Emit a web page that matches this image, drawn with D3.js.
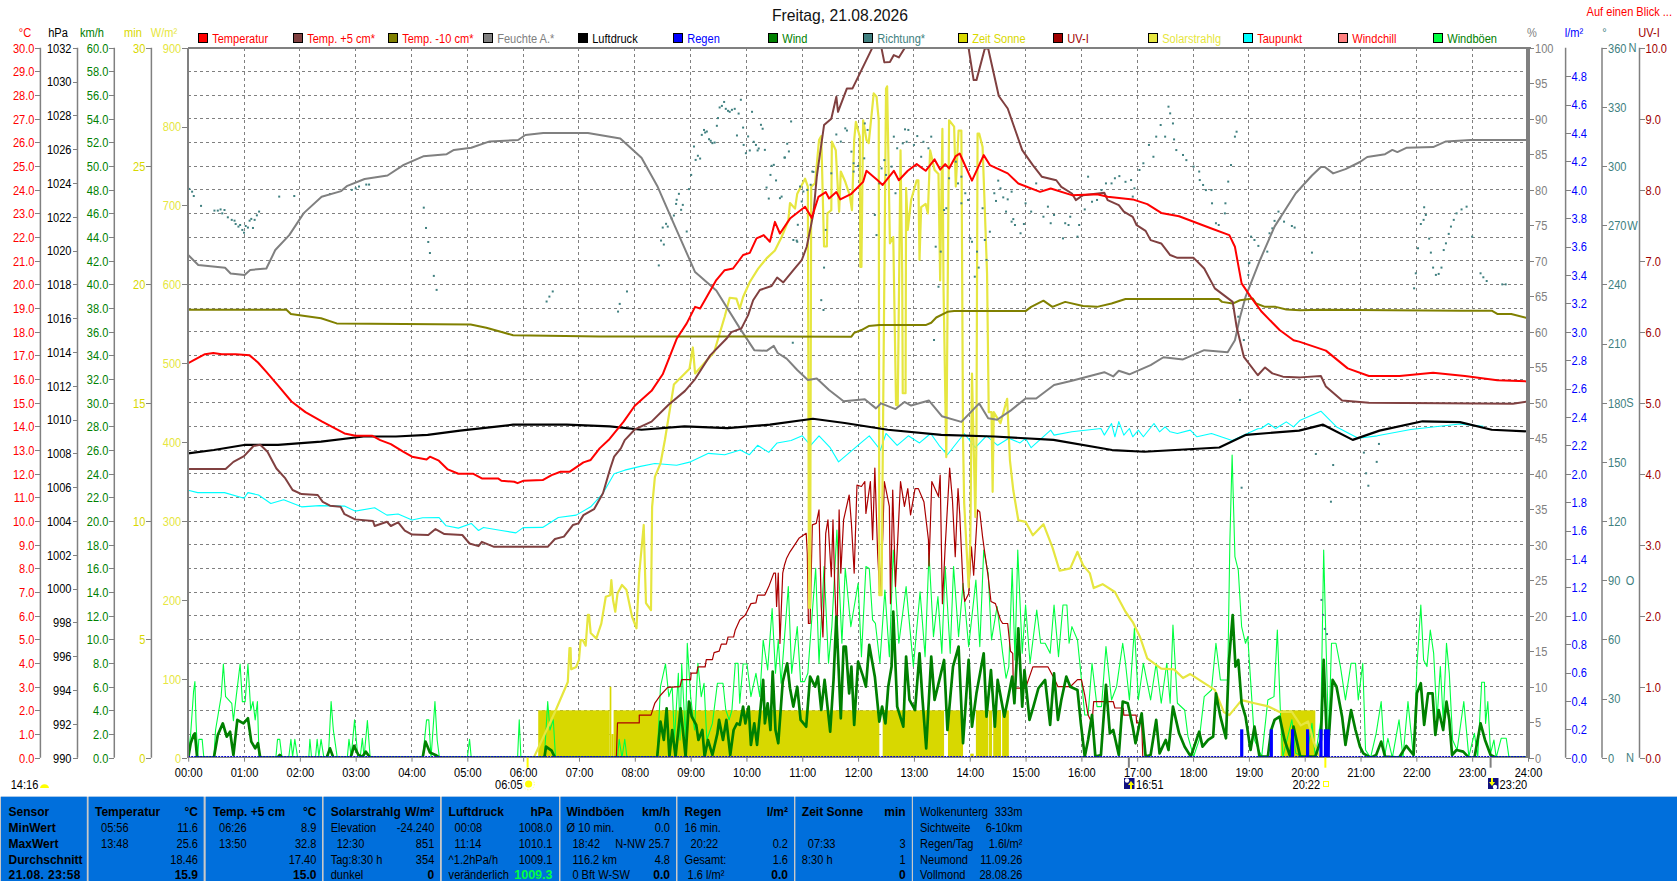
<!DOCTYPE html>
<html><head><meta charset="utf-8">
<script src="https://cdn.jsdelivr.net/npm/d3@7"></script>
<style>
html,body{margin:0;padding:0;background:#fff;overflow:hidden}
svg{display:block}
text{font-family:'Liberation Sans',sans-serif;font-size:13.5px}
.b{font-family:'Liberation Sans',sans-serif;font-weight:bold;font-size:12px}
</style></head><body><svg id="c" width="1677" height="881"></svg>
<script>
// ---------- categories / ticks ----------
const hourTicks=d3.range(0,25);
const compass={360:"N",270:"W",180:"S",90:"O",0:"N"};
const legendNames=["Temperatur","Temp. +5 cm*","Temp. -10 cm*","Feuchte A.*","Luftdruck","Regen","Wind","Richtung*","Zeit Sonne","UV-I","Solarstrahlg","Taupunkt","Windchill","Windböen"];
const legendColors=["#ff0000","#804040","#808000","#808080","#000000","#0000ff","#008000","#408080","#d8d800","#a00000","#e6e640","#00ffff","#ff8080","#00ff40"];
const legendText=["#ff0000","#ff0000","#ff0000","#808080","#000000","#0000ff","#008000","#408080","#d8d800","#a00000","#e6e640","#ff0000","#ff0000","#008000"];

// ---------- series: [hour, value] ----------
const temperature=[[0,16.67],[.1,16.8],[.3,17.05],[.45,17.1],[.6,17.05],[.85,17.05],[1.1,17],[1.25,16.7],[1.4,16.3],[1.6,15.75],[1.85,15.05],[2.1,14.6],[2.4,14.2],[2.8,13.7],[3,13.6],[3.3,13.6],[3.44,13.42],[3.63,13.25],[3.85,12.93],[4.01,12.72],[4.27,12.6],[4.33,12.72],[4.49,12.55],[4.65,12.18],[4.84,12],[5.1,12],[5.26,11.8],[5.55,11.8],[5.61,11.7],[5.84,11.66],[5.9,11.6],[6,11.7],[6.35,11.73],[6.51,11.94],[6.67,12.08],[6.83,12.08],[7.08,12.48],[7.21,12.58],[7.37,13.07],[7.53,13.42],[7.8,14.2],[8,14.87],[8.3,15.5],[8.5,16.2],[8.75,17.7],[8.93,18.35],[9.08,19.05],[9.17,18.98],[9.29,19.48],[9.46,20.18],[9.61,20.6],[9.76,20.67],[9.94,21.24],[10.06,21.33],[10.18,21.94],[10.31,22.08],[10.42,21.8],[10.51,22.64],[10.6,22.15],[10.78,22.78],[11.05,23.28],[11.17,22.81],[11.29,23.7],[11.42,23.9],[11.48,23.63],[11.61,23.9],[11.68,23.59],[11.87,23.81],[12.09,24.33],[12.15,24.8],[12.25,24.6],[12.35,24.4],[12.44,24.2],[12.64,24.8],[12.73,24.4],[12.89,24.8],[13.05,25.08],[13.21,24.8],[13.37,25.28],[13.47,24.85],[13.56,25.08],[13.63,24.9],[13.75,25.42],[13.82,25.53],[14.04,24.38],[14.25,25.46],[14.36,25.04],[14.68,24.69],[14.87,24.26],[15.26,23.91],[15.45,24.05],[15.83,23.77],[16.28,23.81],[16.47,23.7],[16.92,23.59],[17.18,23.39],[17.43,23.02],[17.75,22.88],[18.33,22.36],[18.65,22.08],[18.75,21.59],[18.87,20.04],[19.03,19.48],[19.23,18.84],[19.55,18.07],[19.8,17.64],[19.9,17.58],[20.38,17.2],[20.77,16.45],[21.15,16.13],[21.7,16.13],[22.3,16.27],[22.87,16.13],[23.45,15.95],[24,15.9]];
const tempPlus5=[[0,12.2],[.67,12.2],[.81,12.5],[1,12.74],[1.17,13.17],[1.29,13.22],[1.42,12.93],[1.58,12.22],[1.74,11.8],[1.87,11.31],[2.03,11.14],[2.32,11.1],[2.41,10.81],[2.54,10.65],[2.73,10.6],[2.8,10.29],[2.99,10.07],[3.31,10],[3.34,9.79],[3.56,9.97],[3.63,9.79],[3.76,9.94],[3.88,9.59],[4.01,9.43],[4.3,9.41],[4.43,9.66],[4.59,9.45],[4.91,9.41],[5.04,9.05],[5.2,8.94],[5.26,9.12],[5.48,8.91],[6.44,8.91],[6.57,9.24],[6.73,9.34],[6.89,9.83],[6.99,9.9],[7.08,10.25],[7.27,10.5],[7.43,11.17],[7.56,12.22],[7.63,12.72],[7.75,13.07],[7.82,13.42],[8,13.87],[8.3,14.2],[8.6,14.9],[8.9,15.5],[9.08,16],[9.35,17],[9.64,17.7],[9.73,17.98],[9.91,18.14],[10.03,18.7],[10.12,19.33],[10.24,19.76],[10.45,19.93],[10.55,20.29],[10.66,20.08],[10.84,20.6],[10.99,21.02],[11.08,21.59],[11.2,23],[11.26,24.55],[11.39,26.73],[11.52,27],[11.61,27.93],[11.64,27.29],[11.8,28.28],[11.9,28.28],[12.06,29.05],[12.25,29.97],[12.35,30.88],[12.42,29.97],[12.47,29.38],[12.57,29.4],[12.64,29.69],[12.73,29.59],[12.83,29.97],[13.08,31.2],[13.83,32.8],[13.91,30.74],[13.98,29.97],[14.07,28.63],[14.12,28.63],[14.27,29.97],[14.33,29.97],[14.52,27.96],[14.68,27.43],[14.94,25.67],[15.13,25.04],[15.29,24.55],[15.55,24.4],[15.64,24.12],[15.83,23.84],[15.9,23.56],[16.03,23.77],[16.41,23.87],[16.47,23.56],[16.67,23.35],[16.76,23.07],[16.92,22.85],[16.99,22.5],[17.15,22.26],[17.24,21.87],[17.43,21.73],[17.59,21.24],[17.72,21.12],[18.01,21.12],[18.2,20.67],[18.39,19.83],[18.71,19.26],[18.78,18.21],[18.91,16.94],[19.16,16.16],[19.29,16.49],[19.42,16.24],[19.61,16.1],[19.92,16.07],[20.29,16.13],[20.38,15.68],[20.67,15.09],[21.15,15],[23.73,14.96],[24,15.05]];
const tempMinus10=[[0,18.93],[1.76,18.93],[1.84,18.75],[2.09,18.66],[2.38,18.57],[2.66,18.35],[5.06,18.3],[5.34,18.17],[5.63,17.98],[5.82,17.85],[7.36,17.8],[11.88,17.79],[11.93,17.95],[12.06,18.07],[12.19,18.24],[12.38,18.28],[13.21,18.28],[13.31,18.38],[13.4,18.6],[13.6,18.84],[13.72,18.87],[15,18.87],[15.1,19.05],[15.32,19.31],[15.48,19.05],[15.71,19.26],[16.03,19.09],[16.28,19.05],[16.54,19.19],[16.79,19.38],[18.46,19.38],[18.52,19.26],[18.71,19.19],[18.84,19.33],[19.07,19.4],[19.13,19.19],[19.29,19.05],[19.48,19.05],[19.67,18.94],[19.92,18.91],[20.3,18.93],[22.8,18.89],[23.35,18.89],[23.45,18.75],[23.7,18.75],[24,18.57]];
const humidity=[[0,70.8],[.18,69.4],[.66,69],[.76,68.2],[1.01,68],[1.11,68.7],[1.4,68.9],[1.56,71.5],[1.81,73.6],[2.07,76.7],[2.39,79],[2.74,79.8],[2.84,80.5],[3.16,81.5],[3.57,82],[3.86,83.5],[4.21,84.7],[4.63,85],[4.76,85.6],[5.07,85.9],[5.4,86.8],[5.91,87],[6.04,87.7],[6.36,88],[7.16,88],[7.74,87.2],[8.12,84.5],[8.41,80.4],[8.7,75.2],[9.08,68.4],[9.46,65.8],[9.88,60.5],[10.14,57.4],[10.36,57.3],[10.49,58],[10.56,57],[10.72,56.2],[10.91,54.6],[11.1,53.2],[11.26,53.4],[11.48,51.8],[11.74,50.2],[12.12,50.5],[12.32,49.2],[12.41,49.9],[12.67,49.1],[12.83,50.1],[12.95,49.6],[13.27,50.3],[13.5,48.1],[13.85,47.3],[14.17,49.9],[14.33,47.8],[14.49,47.6],[14.75,49],[15,50.6],[15.19,50.6],[15.51,52.5],[15.83,53.1],[16.41,54.3],[16.57,53.7],[16.67,54.5],[16.86,54],[17.24,55.3],[17.47,56.4],[17.82,56.1],[18.2,57.4],[18.62,57.1],[18.75,58.8],[18.84,62],[18.94,64.9],[19.2,70.1],[19.46,74.8],[19.84,79.5],[20.13,82],[20.29,83.2],[20.36,83.2],[20.51,82.3],[20.73,82.9],[20.99,83.9],[21.12,84.6],[21.44,85],[21.57,85.6],[21.66,85.3],[21.82,85.9],[22.3,86],[22.53,86.8],[22.97,87],[24,87]];
const pressure=[[0,1008],[.46,1008.2],[1,1008.5],[1.61,1008.5],[2.38,1008.7],[3.14,1009],[3.72,1009],[4.29,1009.1],[4.87,1009.35],[5.82,1009.7],[6.78,1009.7],[7.55,1009.6],[8.12,1009.4],[8.89,1009.6],[9.66,1009.5],[10.42,1009.7],[11.19,1010.05],[11.76,1009.8],[12.53,1009.4],[13.49,1009.1],[14.44,1009],[15.5,1008.8],[16.55,1008.2],[17.13,1008.1],[18.47,1008.35],[18.95,1009.1],[19.9,1009.35],[20.33,1009.7],[20.86,1008.8],[21.34,1009.35],[22.11,1009.9],[22.78,1009.85],[23.35,1009.4],[24,1009.3]];
const dewPoint=[[0,11.3],[.17,11.2],[.65,11.2],[1,10.96],[1.07,11.2],[1.26,11.1],[1.48,10.74],[1.71,10.9],[2.03,10.6],[2.35,10.65],[2.8,10.63],[2.99,10.42],[3.34,10.56],[3.56,10.25],[3.76,10.3],[4.01,10.04],[4.2,10.14],[4.49,10.15],[4.62,9.8],[4.84,9.7],[5.07,9.9],[5.2,9.6],[5.29,9.73],[5.61,9.6],[5.87,9.5],[6,9.72],[6.35,9.73],[6.63,10.15],[6.95,10.25],[7.21,10.6],[7.43,11.17],[7.63,12],[7.82,12.15],[8.08,12.3],[8.36,12.43],[8.75,12.36],[9,12.5],[9.32,12.86],[9.61,12.8],[9.89,13],[10.05,12.8],[10.2,13.2],[10.4,12.9],[10.55,13.3],[10.8,13.4],[11,13.6],[11.15,13.2],[11.3,13.6],[11.5,13.1],[11.65,12.5],[11.85,12.9],[12.05,13.3],[12.2,13.6],[12.4,13],[12.5,13.7],[12.7,13.2],[12.9,13.6],[13.1,13.3],[13.3,13.7],[13.45,13.2],[13.6,12.8],[13.9,13.7],[14.1,13.1],[14.3,13.6],[14.5,13.2],[14.7,13.5],[14.9,13.3],[15,13.49],[15.1,13.1],[15.45,13.84],[15.51,13.63],[15.83,13.77],[16.35,13.91],[16.41,13.63],[16.54,14.12],[16.6,13.56],[16.67,14.2],[16.76,13.63],[16.86,13.91],[16.92,13.56],[17.02,13.84],[17.11,13.56],[17.3,14.12],[17.4,13.77],[17.5,13.98],[17.59,13.77],[17.72,13.7],[17.95,13.84],[18.07,13.56],[18.33,13.7],[18.7,13.4],[19.16,13.9],[19.22,13.91],[19.35,14.12],[19.48,13.91],[19.67,14.19],[19.8,13.98],[19.92,14.26],[20.29,14.64],[20.58,13.96],[20.96,13.5],[21.3,13.6],[21.9,13.87],[22.78,14.1],[23.2,14]];
const solar=[[6.19,0],[6.57,58],[6.8,96],[6.83,139],[6.85,139],[6.86,112],[6.95,115],[7,124],[7.03,149],[7.07,149],[7.12,142],[7.16,181],[7.18,181],[7.21,158],[7.31,151],[7.4,170],[7.48,204],[7.56,206],[7.58,225],[7.61,200],[7.65,185],[7.69,208],[7.77,219],[7.85,213],[7.95,179],[8.03,164],[8.08,234],[8.16,295],[8.18,244],[8.2,196],[8.29,187],[8.31,318],[8.36,356],[8.46,373],[8.54,403],[8.7,473],[8.98,493],[9.04,520],[9.08,487],[9.42,514],[9.61,559],[9.7,583],[9.82,582],[9.88,569],[9.94,584],[10.06,603],[10.21,620],[10.36,633],[10.51,643],[10.63,660],[10.75,681],[10.78,703],[10.87,696],[10.91,715],[11.05,734],[11.1,724],[11.12,190],[11.14,190],[11.16,724],[11.23,728],[11.3,783],[11.34,788],[11.39,648],[11.44,648],[11.45,690],[11.52,694],[11.53,781],[11.6,770],[11.66,692],[11.69,743],[11.77,730],[11.85,713],[11.89,694],[11.93,783],[11.96,806],[12.03,787],[12.04,622],[12.06,622],[12.09,808],[12.15,783],[12.19,779],[12.28,842],[12.33,838],[12.37,808],[12.38,206],[12.42,206],[12.5,848],[12.52,851],[12.57,652],[12.63,660],[12.68,447],[12.71,447],[12.76,770],[12.79,614],[12.8,462],[12.85,462],[12.86,722],[12.89,669],[12.95,707],[13.05,732],[13.08,732],[13.1,631],[13.13,698],[13.21,702],[13.25,690],[13.29,770],[13.37,745],[13.44,740],[13.47,605],[13.51,797],[13.53,597],[13.58,381],[13.63,808],[13.72,800],[13.75,724],[13.8,795],[13.85,795],[13.88,403],[13.9,323],[13.98,216],[14.01,276],[14.04,487],[14.1,305],[14.12,403],[14.14,791],[14.17,791],[14.23,774],[14.27,694],[14.31,614],[14.34,438],[14.39,438],[14.41,337],[14.43,438],[14.55,424],[14.67,455],[14.7,407],[14.72,377],[14.78,339],[14.87,301],[15,299],[15.13,282],[15.32,296],[15.48,267],[15.61,237],[15.8,240],[15.93,261],[16.03,244],[16.15,234],[16.22,215],[16.38,220],[16.6,210],[16.79,185],[16.92,172],[17.05,153],[17.18,126],[17.43,113],[17.66,112],[17.82,101],[17.95,106],[18.39,86],[18.55,58],[18.65,54],[18.87,73],[19.1,69],[19.35,65],[19.55,58],[19.77,58],[19.93,41],[20.06,46],[20.16,20],[20.25,3],[20.35,0]];
const uvIndex=[[7.67,0],[7.69,.49],[8.08,.49],[8.08,.6],[8.29,.6],[8.36,.77],[8.46,.88],[8.59,.99],[8.81,1],[8.84,1.1],[9,1.1],[9.01,1.19],[9.11,1.19],[9.13,1.28],[9.26,1.28],[9.28,1.38],[9.39,1.38],[9.42,1.48],[9.51,1.5],[9.55,1.6],[9.64,1.6],[9.67,1.7],[9.77,1.7],[9.8,1.8],[9.88,1.94],[9.98,2.01],[10.08,2.17],[10.17,2.18],[10.2,2.29],[10.33,2.29],[10.4,2.41],[10.49,2.6],[10.52,2.6],[10.54,2.13],[10.57,2.6],[10.6,1.61],[10.65,2.6],[10.68,2.71],[10.72,2.81],[10.78,2.9],[10.84,2.97],[10.94,3.09],[11.07,3.16],[11.09,2.88],[11.11,1.89],[11.14,1.89],[11.18,3.28],[11.25,3.3],[11.3,3.49],[11.34,2.13],[11.37,1.7],[11.42,3.16],[11.46,3.35],[11.52,2.55],[11.55,3.35],[11.58,2.46],[11.62,1.66],[11.66,3.49],[11.69,2.6],[11.74,3.35],[11.84,3.7],[11.88,3.3],[11.93,2.6],[11.98,3.84],[12.06,3.82],[12.12,3.89],[12.14,3.44],[12.22,3.89],[12.26,3.07],[12.3,4.08],[12.35,2.88],[12.39,2.29],[12.44,3.07],[12.47,3.89],[12.56,3.54],[12.58,2.17],[12.62,3.77],[12.67,2.41],[12.76,3.89],[12.83,3.54],[12.89,3.79],[12.94,3.42],[13.02,3.79],[13.08,3.79],[13.18,3.6],[13.26,3.07],[13.27,2.7],[13.32,3.89],[13.44,3.68],[13.47,3.98],[13.51,2.17],[13.56,2.97],[13.64,4.08],[13.69,3.63],[13.74,2.83],[13.79,3.79],[13.82,3.44],[13.88,2.41],[13.91,2.2],[13.98,2.31],[14.03,2.97],[14.07,2.57],[14.14,3.49],[14.18,3.46],[14.23,3.11],[14.27,2.88],[14.33,2.55],[14.38,2.2],[14.46,2.17],[14.55,1.94],[14.59,1.89],[14.68,1.89],[14.73,1.5],[14.77,1.47],[14.78,.98],[15,.98],[15.13,1.28],[15.4,1.28],[15.51,1.12],[15.58,1],[15.8,1],[15.93,1.1],[16,1.1],[16.06,.88],[16.12,.6],[16.19,.49],[16.22,.79],[16.57,.79],[16.6,.7],[16.75,.7],[16.76,.6],[16.98,.6],[16.99,.49],[17.08,.49],[17.1,0]];
const gusts=[[0,0],[.045,2.06],[.096,5.58],[.12,6.43],[.14,3.05],[.17,0],[.19,1.55],[.25,1.55],[.28,0],[.46,0],[.49,2.34],[.59,5.16],[.63,7.92],[.67,5.16],[.78,4.6],[.81,3.13],[.86,5.16],[.93,7.92],[.97,4.74],[1.02,4.74],[1.07,7.92],[1.12,4.03],[1.16,4.74],[1.2,3.2],[1.24,4.74],[1.27,0],[1.57,0],[1.6,1.55],[1.64,1.55],[1.68,0],[1.8,0],[1.84,1.55],[1.87,.09],[1.91,1.55],[1.96,0],[2.16,0],[2.18,1.55],[2.21,0],[2.28,0],[2.31,1.55],[2.34,.09],[2.38,1.55],[2.43,0],[2.51,0],[2.56,4.74],[2.6,2.34],[2.67,0],[2.85,0],[2.88,1.55],[2.92,.09],[2.98,3.2],[3.01,1.55],[3.04,0],[3.08,0],[3.12,1.64],[3.15,0],[3.21,3.13],[3.26,0],[4.2,0],[4.27,3.2],[4.31,3.2],[4.35,0],[4.42,4.74],[4.46,1.5],[4.5,0],[5,0],[5.04,1.55],[5.07,0],[5.9,0],[5.93,3.2],[5.96,0],[6.38,0],[6.44,4.74],[6.48,2.34],[6.54,3.2],[6.58,0],[7.69,0],[7.72,1.55],[7.77,0],[7.82,1.55],[7.86,0],[8.4,0],[8.46,6],[8.55,7.92],[8.61,5.16],[8.67,6],[8.71,1.5],[8.78,7.13],[8.81,1.5],[8.84,7.92],[8.91,1.5],[8.94,9.67],[9,5.16],[9.07,2.34],[9.13,7.97],[9.19,5.16],[9.24,6.29],[9.29,1.5],[9.39,2.9],[9.48,6.29],[9.58,6.29],[9.63,4.03],[9.69,3.2],[9.74,4.03],[9.8,7.97],[9.85,7.97],[9.88,4.6],[9.94,7.92],[10.01,7.92],[10.08,5.16],[10.17,7.13],[10.24,5.16],[10.3,9.95],[10.38,7.41],[10.46,12.6],[10.52,7.13],[10.57,9.95],[10.62,6.29],[10.75,14.46],[10.81,7.13],[10.91,11.08],[10.97,6.43],[11.04,6.43],[11.1,7.13],[11.16,11.08],[11.24,16],[11.3,7.98],[11.39,16.15],[11.47,7.98],[11.53,11.08],[11.62,19.24],[11.71,9.67],[11.77,16],[11.87,11.08],[12,14.74],[12.06,8.54],[12.14,16.15],[12.2,16],[12.26,11.64],[12.31,11.36],[12.39,7.98],[12.48,14.17],[12.56,8.54],[12.63,17.55],[12.73,9.67],[12.86,14.46],[12.99,7.7],[13.11,14.03],[13.2,8.54],[13.27,17.27],[13.35,10.23],[13.43,13.61],[13.5,8.82],[13.56,16.15],[13.65,8.82],[13.71,16.15],[13.8,10.23],[13.88,14.74],[13.98,9.39],[14.11,15.02],[14.18,9.39],[14.25,17.55],[14.33,15.58],[14.39,9.95],[14.49,12.77],[14.59,8.82],[14.65,6.71],[14.7,7.7],[14.76,16],[14.81,8.26],[14.86,17.55],[14.94,8.82],[15,12.9],[15.08,7.98],[15.2,12.48],[15.27,9.67],[15.35,9.67],[15.44,8.82],[15.51,12.9],[15.59,8.54],[15.67,12.9],[15.74,12.9],[15.78,9.67],[15.83,11.08],[15.93,9.95],[15.99,7.13],[16.06,3.61],[16.12,3.61],[16.19,7.98],[16.28,4.32],[16.36,4.32],[16.44,9.39],[16.54,4.88],[16.63,6],[16.74,9.67],[16.79,7.98],[16.86,4.88],[16.95,10.93],[17.02,4.88],[17.11,7.98],[17.24,4.88],[17.34,7.98],[17.43,4.6],[17.53,7.98],[17.59,4.6],[17.64,11.22],[17.72,4.6],[17.85,4.03],[17.91,1.78],[18.01,.09],[18.11,1.5],[18.2,5.16],[18.33,5.72],[18.41,9.67],[18.49,6.57],[18.62,6.57],[18.66,18.4],[18.7,25.58],[18.75,16.99],[18.81,15.86],[18.87,11.08],[18.94,9.67],[18.98,10.23],[19.1,1.5],[19.23,.09],[19.34,4.88],[19.45,5.16],[19.51,10.79],[19.57,3.2],[19.61,.09],[19.77,3.2],[19.84,.37],[20.03,0],[20.13,2.9],[20.19,.09],[20.29,3.2],[20.34,17.55],[20.38,9.95],[20.43,1.5],[20.48,9.67],[20.56,9.67],[20.64,7.7],[20.73,4.88],[20.83,7.98],[20.91,7.98],[20.96,4.88],[21.04,7.98],[21.09,.65],[21.18,0],[21.28,2.06],[21.37,4.74],[21.43,.09],[21.49,1.64],[21.57,0],[21.69,3.2],[21.76,0],[21.85,4.74],[21.95,0],[22.01,7.7],[22.08,12.9],[22.13,8.26],[22.19,7.7],[22.25,10.79],[22.31,8.82],[22.37,3.2],[22.43,7.7],[22.48,3.2],[22.54,9.67],[22.59,7.13],[22.65,1.5],[22.73,.65],[22.85,4.74],[22.94,.09],[23.04,2.06],[23.1,.09],[23.17,6.37],[23.22,6.37],[23.24,2.9],[23.28,4.74],[23.33,.37],[23.39,1.5],[23.43,0],[23.52,1.64],[23.61,1.64],[23.66,0],[24,0]];
const wind=[[0,0],[.045,1.22],[.096,1.92],[.12,2.06],[.16,0],[.46,0],[.53,1.92],[.62,2.9],[.69,1.78],[.75,2.2],[.81,.23],[.88,3.19],[.99,2.9],[1.07,3.33],[1.13,1.36],[1.2,.79],[1.25,1.22],[1.29,0],[1.6,0],[1.64,.23],[1.68,0],[2.48,0],[2.54,.79],[2.6,0],[2.91,0],[2.97,1],[3.05,.23],[3.12,.09],[3.18,.51],[3.26,0],[4.2,0],[4.25,1.36],[4.33,.43],[4.43,.23],[4.5,0],[6.38,0],[6.41,.93],[6.51,.6],[6.57,0],[8.4,0],[8.46,3.05],[8.52,1.5],[8.57,4.17],[8.62,.09],[8.67,2.34],[8.73,.09],[8.82,4.17],[8.91,.09],[8.97,4.74],[9.02,3.47],[9.1,2.77],[9.14,1.5],[9.21,2.34],[9.25,.09],[9.31,1.5],[9.39,.23],[9.48,2.06],[9.51,3.19],[9.58,1.5],[9.64,3.19],[9.71,.23],[9.77,2.34],[9.83,2.9],[9.88,2.77],[9.94,4.32],[9.98,2.9],[10.04,4.32],[10.08,1.08],[10.14,2.9],[10.19,1.08],[10.3,6.57],[10.33,2.9],[10.38,4.6],[10.43,2.34],[10.47,7.27],[10.52,2.34],[10.57,1.22],[10.65,6.43],[10.73,7.98],[10.78,5.87],[10.84,4.32],[10.91,6],[10.97,3.19],[11.07,2.62],[11.14,6.85],[11.23,6],[11.28,6.85],[11.34,4.03],[11.4,6.57],[11.5,2.2],[11.56,6.57],[11.61,11.92],[11.69,3.33],[11.74,9.39],[11.78,9.39],[11.84,5.44],[11.88,7.7],[11.93,2.77],[12,8.12],[12.09,6.85],[12.14,6],[12.2,9.53],[12.3,6.85],[12.38,3.05],[12.43,4.32],[12.49,2.9],[12.54,6],[12.6,7.7],[12.63,12.34],[12.7,4.32],[12.81,2.62],[12.86,8.54],[12.92,4.88],[13.02,4.03],[13.1,8.82],[13.15,5.16],[13.22,.79],[13.31,8.54],[13.37,4.88],[13.47,6.85],[13.54,8.26],[13.6,2.34],[13.7,7.7],[13.8,9.39],[13.88,1.22],[13.98,8.26],[14.04,2.62],[14.12,5.44],[14.25,8.82],[14.3,3.47],[14.38,7.41],[14.45,2.62],[14.5,6.57],[14.62,3.47],[14.68,4.88],[14.76,6.85],[14.8,4.6],[14.87,10.93],[14.94,4.32],[14.98,7.41],[15.07,3.19],[15.14,4.32],[15.23,5.87],[15.35,6.57],[15.44,2.77],[15.51,7.13],[15.58,3.19],[15.64,4.88],[15.73,6.85],[15.8,6],[15.93,5.72],[15.99,2.9],[16.06,.09],[16.12,1.5],[16.19,3.61],[16.25,.09],[16.35,.23],[16.44,6.15],[16.51,2.06],[16.57,2.34],[16.67,.23],[16.74,4.74],[16.83,4.6],[16.92,2.62],[16.97,1.22],[17.08,3.75],[17.15,.09],[17.24,.23],[17.34,3.19],[17.4,.37],[17.51,1.5],[17.56,.65],[17.64,4.32],[17.75,2.06],[17.85,.93],[17.96,.09],[18.11,2.2],[18.17,.93],[18.27,1.5],[18.36,1.78],[18.41,5.44],[18.49,3.47],[18.59,1.64],[18.64,7.98],[18.71,12.06],[18.76,7.7],[18.81,8.26],[18.87,4.6],[18.94,3.47],[19.03,.65],[19.1,2.62],[19.19,.09],[19.34,.09],[19.4,2.34],[19.46,3.19],[19.55,3.47],[19.64,1.5],[19.74,.09],[19.8,2.62],[19.92,.09],[20.19,.09],[20.29,1.5],[20.34,8.26],[20.38,3.47],[20.41,.09],[20.5,6.57],[20.57,6],[20.67,3.47],[20.73,1.08],[20.83,4.03],[20.91,2.34],[20.99,.93],[21.05,.37],[21.18,0],[21.28,.23],[21.37,1.36],[21.44,.09],[21.69,0],[21.82,1],[21.95,.23],[22.01,5.44],[22.08,6.29],[22.14,2.77],[22.21,5.44],[22.29,5.44],[22.34,1.92],[22.4,4.03],[22.48,2.34],[22.54,4.74],[22.59,3.19],[22.64,.23],[22.72,.65],[22.84,.51],[22.94,0],[23.04,0],[23.15,2.9],[23.23,1.5],[23.33,.23],[23.43,0],[24,0]];
const direction=[[.02,288.4],[.07,287],[.1,284.8],[.23,279.8],[.47,277.4],[.53,277.4],[.58,278],[.61,276],[.65,277.7],[.71,274],[.78,272.7],[.83,272.3],[.85,270.6],[.9,269.3],[.93,270.1],[.97,267.6],[1,266.2],[1.03,269.6],[1.07,268.8],[1.1,272.3],[1.13,273.2],[1.16,268.6],[1.19,272.7],[1.23,275],[1.27,276.9],[1.63,284.5],[1.9,284.8],[2.54,285.8],[2.93,287.9],[3,288.7],[3.06,289.6],[3.19,290.6],[3.24,290.6],[4.22,278.9],[4.26,268.6],[4.3,261.5],[4.33,255.9],[4.4,244.3],[4.45,237.2],[6.42,231.3],[6.47,233.8],[6.53,236.4],[7.7,226.2],[7.73,230.1],[7.86,236.4],[8.43,249.6],[8.47,262.2],[8.52,260.2],[8.5,268.8],[8.56,270.7],[8.59,269.3],[8.66,273.4],[8.7,274.9],[8.74,280.8],[8.75,282.9],[8.79,285.9],[8.83,277.8],[8.86,280.3],[8.93,266.8],[8.97,288.3],[9.01,295.5],[9.06,309.9],[9.09,303.1],[9.13,305.2],[9.17,303.8],[9.2,315.8],[9.24,318.3],[9.26,317],[9.29,317.5],[9.33,313.6],[9.36,312.8],[9.39,311.6],[9.43,311.9],[9.47,320.4],[9.49,324.3],[9.52,329.7],[9.56,330.5],[9.6,332.5],[9.63,329],[9.67,328],[9.7,327.5],[9.74,328.5],[9.79,329],[9.83,315.5],[9.86,326.6],[9.9,333.6],[9.94,319.5],[9.95,310.7],[9.99,306.5],[10.03,315],[10.06,307.9],[10.1,327.5],[10.13,312.3],[10.17,310.7],[10.2,307.9],[10.22,308.9],[10.26,320.9],[10.29,318.9],[10.33,308.2],[10.36,289.1],[10.4,283.5],[10.43,295.5],[10.45,300.1],[10.49,300.6],[10.53,292.7],[10.6,283.7],[10.63,284.5],[10.68,304.3],[10.69,304.3],[10.73,311.3],[10.76,307.4],[10.8,322.6],[10.9,262.2],[10.92,270.2],[10.96,289.6],[10.99,282],[11.02,287.1],[11.09,287.9],[11.15,290.5],[11.18,297.2],[10.83,210.4],[11.34,232],[11.38,227],[11.39,248.5],[11.42,267.6],[10.84,262.5],[10.91,261.6],[11.2,297],[11.52,296.3],[11.61,316],[11.69,312.4],[11.77,319.1],[11.8,318],[11.88,307.3],[11.92,301.4],[11.92,297.2],[12,300],[12.11,303.9],[12.12,321.6],[12.17,318.3],[12.3,275.2],[12.33,265],[12.38,291.2],[12.42,298.8],[12.47,303],[12.5,295.5],[12.6,299.7],[12.64,314.9],[12.67,286.2],[12.7,309],[12.8,311.5],[12.84,318.6],[12.9,318.3],[12.87,312.3],[13,310.7],[13.06,315.2],[13.17,312.3],[13.26,309],[13.31,314.9],[13.13,304.7],[13.36,211.8],[13.39,259.1],[13.44,238.8],[13.48,256.6],[13.54,277.7],[13.58,278.6],[13.63,293.8],[13.75,302.2],[13.79,291.2],[13.85,294.6],[13.85,281.1],[13.97,282.8],[13.92,286.2],[14.01,263.3],[14.04,261.6],[14.13,256.6],[14.16,248.5],[14.09,243.9],[14.27,262.5],[14.36,266.7],[14.3,252.4],[14.23,278.6],[14.51,292.6],[14.55,288.7],[14.44,286.2],[14.47,282.3],[14.6,284.1],[14.68,283.1],[14.75,287],[14.65,276.9],[14.78,273.1],[14.75,271.8],[14.81,270.1],[14.91,265.9],[14.97,270.6],[15,281.1],[15.1,276.9],[15.19,291.2],[15.32,274.3],[15.4,279.4],[15.45,271],[15.51,275.2],[15.67,263.3],[15.71,271],[15.77,270.1],[15.8,274.3],[15.96,270.1],[15.93,264.2],[16.06,278],[16.12,294.6],[16.19,281.9],[16.28,282.8],[16.36,287.8],[16.44,291.2],[16.54,291.2],[16.6,293.8],[16.68,294.9],[16.79,292],[16.89,292.9],[16.92,284.5],[16.95,288.7],[17.04,298],[17.11,301.4],[17.21,310.7],[17.29,304.7],[17.34,314.9],[17.42,320.8],[17.5,314.9],[17.56,330.1],[17.59,326.7],[17.64,321.6],[17.66,313.5],[17.7,308.1],[17.82,305.6],[17.88,303],[18.01,299.7],[18.11,297.2],[18.12,292.9],[18.18,290.4],[18.23,287.8],[18.33,287.8],[18.34,281.1],[18.41,271],[18.46,270.1],[18.57,276],[18.58,281.1],[18.63,292.1],[18.68,300.5],[18.75,314.9],[18.78,317.4],[18.84,181.4],[18.91,211.8],[18.81,223.6],[19,250.7],[18.99,244.8],[19.01,251],[19.04,264.2],[19.1,262.5],[19.17,259.5],[19.33,256.6],[19.37,265.9],[19.42,268.4],[19.46,272.2],[19.53,276.9],[19.56,273.5],[19.63,271.8],[19.77,269.6],[19.82,268.8],[20.13,256.1],[21.96,238],[21.99,245.6],[22.03,258.3],[22.08,270.6],[22.13,272.7],[22.17,275.2],[22.14,279.1],[22.23,263.2],[22.26,256.1],[22.3,248.5],[22.35,244.8],[22.4,245.3],[22.45,248.5],[22.49,257.4],[22.53,260.8],[22.58,265.6],[22.62,269.3],[22.67,272.7],[22.72,276],[22.81,278],[22.9,279.4],[23,264.2],[23.15,245.6],[23.2,243.6],[23.26,241.7],[23.54,240],[23.6,240],[18.87,136.9],[20.2,154],[20.51,148.4],[20.47,129.8],[21.06,154.7],[21.1,144.2],[21.14,137.9],[21.33,159.1],[21.29,150],[20.3,80],[20.33,72.4],[20.36,65.3],[20.4,62.7]];
const sunTime=[[6.27,7.55,2],[7.55,7.58,3],[7.58,7.62,1],[7.62,12.38,2],[12.44,13.54,2],[13.61,13.88,2],[14.01,14.07,.17],[14.11,14.33,2],[14.34,14.4,2],[14.42,14.56,2],[14.58,14.7,2],[19.57,20.19,2]];
const rainHours=[18.87,19.4,19.78,20.05,20.29,20.37,20.42];
const rainValues=[.2,.2,.2,.2,.2,.2,.2];

// ---------- table texts ----------
const rowLabels=["Sensor","MinWert","MaxWert","Durchschnitt","21.08. 23:58"];
const tableCols=[
 {head:"Temperatur",unit:"°C",left:[["05:56",1],["13:48",1],null,null],right:["11.6","25.6","18.46","15.9"]},
 {head:"Temp. +5 cm",unit:"°C",left:[["06:26",1],["13:50",1],null,null],right:["8.9","32.8","17.40","15.0"]},
 {head:"Solarstrahlg",unit:"W/m²",left:[["Elevation",0],["12:30",1],["Tag:8:30 h",0],["dunkel",0]],right:["-24.240","851","354","0"]},
 {head:"Luftdruck",unit:"hPa",left:[["00:08",1],["11:14",1],["^1.2hPa/h",0],["veränderlich",0]],right:["1008.0","1010.1","1009.1","1009.3"]},
 {head:"Windböen",unit:"km/h",left:[["Ø 10 min.",0],["18:42",1],["116.2 km",1],["0 Bft W-SW",1]],right:["0.0","N-NW 25.7","4.8","0.0"]},
 {head:"Regen",unit:"l/m²",left:[["16 min.",0],["20:22",1],["Gesamt:",0],["1.6 l/m²",.5]],right:["","0.2","1.6","0.0"]},
 {head:"Zeit Sonne",unit:"min",left:[null,["07:33",1],["8:30 h",0],null],right:["","3","1","0"]}
];
const extraLabels=["Wolkenunterg","Sichtweite","Regen/Tag","Neumond","Vollmond"];
const extraValues=["333m","6-10km","1.6l/m²","11.09.26","28.08.26"];

// ---------- layout ----------
const svg=d3.select("#c");
const L=188.2,R=1528,T=47.7,B=757.7;
const x=d3.scaleLinear([0,24],[L,R]);
const sc=(a,b)=>d3.scaleLinear([a,b],[B,T]);
const yT=sc(0,30),yP=sc(990,1032),yK=sc(0,60),yM=sc(0,30),yW=sc(0,900),yH=sc(0,100),yR=sc(0,5),yD=sc(0,360),yU=sc(0,10);
const GR="#808080";

const txt=(s,px,py,o={})=>{const t=svg.append("text").attr("x",px).attr("y",py).text(s)
  .attr("text-anchor",o.a||"start").attr("fill",o.c||"#000");
  if(o.s)t.style("font-size",o.s+"px"); if(o.b)t.attr("class","b"); return t;};
txt("Freitag, 21.08.2026",840,20.5,{a:"middle",s:15.7,c:"#111"}).attr("class","wide");
txt("Auf einen Blick ...",1672,16,{a:"end",c:"#ff0000"});
[["°C",25,"#ff0000"],["hPa",58,"#000"],["km/h",92,"#008000"],["min",133,"#d8d800"],["W/m²",164,"#e6e640"],
 ["%",1532,GR],["l/m²",1574,"#0000ff"],["°",1604.5,"#408080"],["UV-I",1649,"#a00000"]]
 .forEach(d=>txt(d[0],d[1],37,{a:"middle",c:d[2]}));

// legend
const lg=svg.append("g").selectAll("g").data(legendNames).join("g").attr("transform",(d,i)=>`translate(${198.2+95*i},33.5)`);
lg.append("rect").attr("width",9).attr("height",9).attr("fill",(d,i)=>legendColors[i]).attr("stroke","#000").attr("shape-rendering","crispEdges");
lg.append("text").attr("x",14).attr("y",9).text(d=>d).attr("fill",(d,i)=>legendText[i]);

// grid
const gridG=svg.append("g").attr("stroke",GR).attr("stroke-dasharray","3,3").attr("shape-rendering","crispEdges");
gridG.selectAll(".v").data(d3.range(1,24)).join("line").attr("x1",d=>x(d)).attr("x2",d=>x(d)).attr("y1",T).attr("y2",B);
gridG.selectAll(".h").data(d3.range(1,30)).join("line").attr("x1",L).attr("x2",R).attr("y1",d=>yT(d)).attr("y2",d=>yT(d));

// clipped plot
svg.append("clipPath").attr("id","pc").append("rect").attr("x",L).attr("y",T).attr("width",R-L).attr("height",B-T);
const plot=svg.append("g").attr("clip-path","url(#pc)");
plot.selectAll(".sun").data(sunTime).join("rect").attr("x",d=>x(d[0])).attr("width",d=>x(d[1])-x(d[0]))
  .attr("y",d=>yM(d[2])).attr("height",d=>B-yM(d[2])).attr("fill","#d8d800");
const drawLine=(data,y,color,w,curve)=>{
  const s=data.slice().sort((a,b)=>a[0]-b[0]);
  plot.append("path").attr("d",d3.line().x(d=>x(d[0])).y(d=>y(d[1])).curve(curve||d3.curveLinear)(s))
   .attr("fill","none").attr("stroke",color).attr("stroke-width",w).attr("stroke-linejoin","round");};
drawLine(gusts,yK,"#00ff40",1.1);
drawLine(dewPoint,yT,"#00ffff",1.1);
drawLine(uvIndex,yU,"#aa0000",1.2);
drawLine(solar,yW,"#e6e640",2.2);
plot.selectAll(".dir").data(direction).join("rect").attr("x",d=>x(d[0])-1).attr("y",d=>yD(d[1])-1).attr("width",2).attr("height",2).attr("fill","#408080");
drawLine(wind,yK,"#008000",2.7);
plot.selectAll(".rain").data(rainHours).join("rect").attr("x",d=>x(d)-1.5).attr("width",3.2)
  .attr("y",(d,i)=>yR(rainValues[i])).attr("height",(d,i)=>B-yR(rainValues[i])).attr("fill","#0000ff");
plot.append("line").attr("x1",L).attr("x2",R).attr("y1",B-1).attr("y2",B-1).attr("stroke","#0000cc").attr("stroke-width",1.5).attr("stroke-dasharray","2,1");
drawLine(pressure,yP,"#000",2.2);
drawLine(humidity,yH,GR,2);
drawLine(tempMinus10,yT,"#808000",2);
drawLine(tempPlus5,yT,"#804040",2);
drawLine(temperature,yT,"#ff0000",2);

// frame
const frame=svg.append("g").attr("stroke",GR).attr("shape-rendering","crispEdges");
frame.append("line").attr("x1",L).attr("x2",R+3).attr("y1",T).attr("y2",T).attr("stroke-width",2);
frame.append("line").attr("x1",L).attr("x2",L).attr("y1",T).attr("y2",B).attr("stroke-width",2);
frame.append("line").attr("x1",R).attr("x2",R).attr("y1",T).attr("y2",B).attr("stroke-width",4);
frame.append("line").attr("x1",L).attr("x2",R).attr("y1",B).attr("y2",B).attr("stroke-width",1.5);

// axes through d3.axis
function addAxis(xp,scale,orient,vals,fmt,color,line){
  const ax=(orient==="l"?d3.axisLeft:d3.axisRight)(scale).tickValues(vals).tickFormat(fmt).tickSize(5).tickPadding(1);
  const g=svg.append("g").attr("transform",`translate(${xp},0)`).call(ax);
  g.select(".domain").attr("stroke",line?GR:"none").attr("stroke-width",1.5).attr("d",`M0,${T}V${B}`);
  g.selectAll(".tick line").attr("stroke",GR).attr("shape-rendering","crispEdges");
  g.selectAll(".tick text").attr("fill",color);
  g.attr("font-family",null).attr("font-size",null);
  return g;}
const f1=d3.format(".1f");
addAxis(40.4,yT,"l",d3.range(0,31),f1,"#ff0000",true);
addAxis(77.5,yP,"l",d3.range(990,1033,2),d3.format("d"),"#000",true);
addAxis(114.3,yK,"l",d3.range(0,61,2),f1,"#008000",true);
addAxis(151.4,yM,"l",d3.range(0,31,5),d3.format("d"),"#d8d800",true);
addAxis(L-1,yW,"l",d3.range(0,901,100),d3.format("d"),"#e6e640",false);
addAxis(R+1,yH,"r",d3.range(0,101,5),d3.format("d"),GR,false);
addAxis(1565.6,yR,"r",d3.range(0,4.81,.2),f1,"#0000ff",true);
addAxis(1602,yD,"r",d3.range(0,361,30),d3.format("d"),"#408080",true);
addAxis(1639.5,yU,"r",d3.range(0,11),f1,"#a00000",true);
Object.entries(compass).forEach(([k,c])=>txt(c,+k===360||+k===270?1632.5:1630,yD(+k)+4.5,{a:"middle",c:"#408080"}));
const xAxis=d3.axisBottom(x).tickValues(hourTicks).tickFormat(d=>d3.format("02")(d)+":00").tickSize(4).tickPadding(5.5);
const xg=svg.append("g").attr("transform",`translate(0,${B})`).call(xAxis);
xg.attr("font-family",null).attr("font-size",null);
xg.select(".domain").remove();
xg.selectAll(".tick line").attr("stroke",GR);
xg.selectAll(".tick text").attr("fill","#000");

// astronomical marks
[[6.08,"#ffff00"],[20.37,"#ffff00"],[16.85,GR],[23.33,GR]].forEach(d=>svg.append("line").attr("x1",x(d[0])).attr("x2",x(d[0])).attr("y1",B).attr("y2",B+10).attr("stroke",d[1]).attr("stroke-width",2));
txt("14:16",10.7,788.5); txt("06:05",495,788.5); txt("16:51",1136,788.5); txt("20:22",1292.5,788.5); txt("23:20",1499.6,788.5);
svg.append("path").attr("d","M40,788a4.6,4.6 0 0 1 9,0z").attr("fill","#ffff00");
svg.append("circle").attr("cx",528.6).attr("cy",784).attr("r",3.6).attr("fill","#ffff00");
svg.append("circle").attr("cx",528.6).attr("cy",784).attr("r",5.8).attr("fill","none").attr("stroke","#ffff88").attr("stroke-dasharray","1.5,1.5");
svg.append("rect").attr("x",1323.5).attr("y",781.5).attr("width",5).attr("height",5).attr("fill","none").attr("stroke","#ffff00");
[[1124,1],[1488,-1]].forEach(d=>{const g=svg.append("g").attr("transform",`translate(${d[0]},778)`);
  g.append("rect").attr("width",10.5).attr("height",11).attr("fill","#101080");
  g.append("circle").attr("cx",d[1]>0?3:7).attr("cy",d[1]>0?2.5:9).attr("r",2.2).attr("fill","#fff");
  g.append("path").attr("d",d[1]>0?"M7,3l3,4h-2v4h-2v-4h-2z":"M4,8l-3,-4h2v-4h2v4h2z").attr("fill","#ffff00");});

// table
const PT=796.7;
svg.append("rect").attr("x",0).attr("y",PT).attr("width",1677).attr("height",881-PT).attr("fill","#c8c8c8");
const cells=[[1,86.8],[88.6,203.6],[205.7,322],[323.6,440],[441.8,559],[560.5,676],[677.5,794],[795.4,911.8],[913,1677]];
svg.selectAll(".cell").data(cells).join("rect").attr("x",d=>d[0]).attr("width",d=>d[1]-d[0]).attr("y",PT).attr("height",881-PT).attr("fill","#006fdc");
const rowY=[815.5,831.5,847.5,863.5,879];
rowLabels.forEach((s,i)=>txt(s,8.6,rowY[i],{b:1}).style("letter-spacing",i===4?"0.4px":null));
const colX=[[95,198],[213,316.4],[330.7,434.3],[448.6,552.5],[566.4,670],[684.6,788],[801.8,905.7]];
tableCols.forEach((c,j)=>{const [l,r]=colX[j];
  txt(c.head,l,rowY[0],{b:1}); txt(c.unit,r,rowY[0],{b:1,a:"end"});
  c.left.forEach((d,i)=>{if(d)txt(d[0],l+6*d[1],rowY[i+1]);});
  c.right.forEach((d,i)=>{if(!d)return;const last=i===3;
    const t=txt(d,r,rowY[i+1],last?{b:1,a:"end"}:{a:"end"});
    if(d==="1009.3"){t.attr("fill","#00ff40").style("font-size","12.5px");}});
});
extraLabels.forEach((s,i)=>{txt(s,920,rowY[i]);txt(extraValues[i],1022.5,rowY[i],{a:"end"});});

// the reference's small-screen font is narrow: condense regular text horizontally
svg.selectAll("text").each(function(){
  const t=d3.select(this);
  if(t.classed("b")||t.classed("wide"))return;
  const px=+t.attr("x")||0,py=+t.attr("y")||0;
  t.attr("x",0).attr("y",0).attr("transform",`translate(${px},${py}) scale(.82,1)`);
});
</script></body></html>
